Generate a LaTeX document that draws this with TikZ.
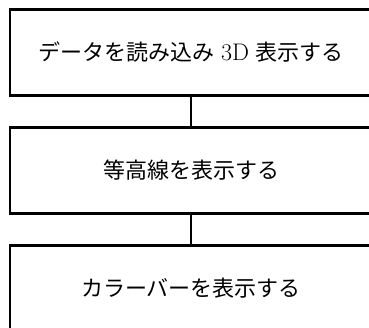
\documentclass[tikz,border=0pt]{standalone}
\usepackage{fontspec}
\usepackage{tikz}
\usetikzlibrary{positioning}
\newfontfamily\jpfont{Noto Sans CJK JP}

\tikzset{
  stepbox/.style={rectangle, draw, line width=2.4pt, minimum width=362pt,
    minimum height=86pt, outer sep=0pt, font=\fontsize{22}{26}\selectfont},
  link/.style={line width=2.4pt}
}

\begin{document}
\begin{tikzpicture}
        \clip (0,0) rectangle (369pt,-327pt);
        \node[stepbox] (load) at (191pt,-52.5pt) {{\jpfont データを読み込み} {\fontsize{24}{26}\selectfont 3D} {\jpfont 表示する}};
        \node[stepbox, below=32pt of load] (contour) {\jpfont 等高線を表示する};
        \node[stepbox, below=32pt of contour] (colorbar) {\jpfont カラーバーを表示する};
        
        \draw[link] (load) to (contour)
            (contour) to (colorbar);
    \end{tikzpicture}
\end{document}
